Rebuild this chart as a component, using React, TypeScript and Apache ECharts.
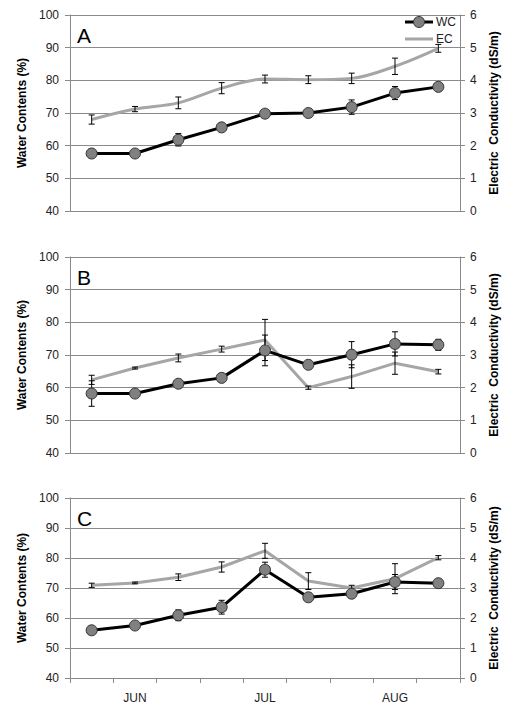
import React, { useEffect, useRef } from "react";
import * as echarts from "echarts";

// ---- data ----
const categories = ["", "JUN", "", "", "JUL", "", "", "AUG", ""];
const panelNames = ["A", "B", "C"];
const legendNames = ["WC", "EC"];

const wcA = [57.6, 57.6, 61.8, 65.6, 69.8, 70.0, 71.8, 76.1, 78.0];
const wcAErr = [0, 0, 1.9, 0, 0, 0, 2.2, 2.0, 0];
const ecA = [2.8, 3.12, 3.31, 3.76, 4.04, 4.02, 4.06, 4.43, 4.98];
const ecAErr = [0.14, 0.08, 0.18, 0.17, 0.12, 0.12, 0.16, 0.25, 0.12];

const wcB = [58.2, 58.2, 61.2, 63.0, 71.4, 67.0, 70.1, 73.4, 73.1];
const wcBErr = [3.9, 0, 1.0, 1.0, 4.7, 0, 4.0, 3.7, 1.7];
const ecB = [2.24, 2.6, 2.91, 3.18, 3.46, 2.0, 2.34, 2.75, 2.49];
const ecBErr = [0.14, 0.03, 0.12, 0.09, 0.63, 0.05, 0.36, 0.34, 0.07];

const wcC = [55.9, 57.5, 60.9, 63.6, 76.1, 66.9, 68.1, 72.0, 71.6];
const wcCErr = [0, 0, 1.8, 2.3, 2.5, 0, 0, 2.5, 0];
const ecC = [3.09, 3.17, 3.36, 3.7, 4.24, 3.23, 3.0, 3.31, 4.01];
const ecCErr = [0.07, 0.03, 0.11, 0.17, 0.25, 0.28, 0.09, 0.5, 0.07];

const wcTicks = { min: 40, max: 100, interval: 10 };
const ecTicks = { min: 0, max: 6, interval: 1 };

const leftTitle = "Water Contents (%)";
const rightTitle = "Electric  Conductivity (dS/m)";

const panels = [
  { wc: wcA, wcErr: wcAErr, ec: ecA, ecErr: ecAErr, smooth: 0.35 },
  { wc: wcB, wcErr: wcBErr, ec: ecB, ecErr: ecBErr, smooth: false },
  { wc: wcC, wcErr: wcCErr, ec: ecC, ecErr: ecCErr, smooth: false },
];

const gridBoxes = [
  { top: 15, height: 196 },
  { top: 257, height: 196 },
  { top: 498, height: 180 },
];

const FONT = "Liberation Sans";
const GRID_COLOR = "#8a8a8a";
const EC_COLOR = "#a6a6a6";
const MARKER_FILL = "#808080";

function errData(vals: number[], errs: number[]) {
  const out: number[][] = [];
  vals.forEach((v, k) => {
    if (errs[k] > 0) out.push([k, v - errs[k], v + errs[k]]);
  });
  return out;
}

const renderErr = (params: any, api: any) => {
  const x = api.value(0);
  const top = api.coord([x, api.value(2)]);
  const bot = api.coord([x, api.value(1)]);
  const w = 3;
  const style = { stroke: "#000", lineWidth: 1 };
  return {
    type: "group",
    children: [
      { type: "line", shape: { x1: top[0], y1: top[1], x2: bot[0], y2: bot[1] }, style },
      { type: "line", shape: { x1: top[0] - w, y1: top[1], x2: top[0] + w, y2: top[1] }, style },
      { type: "line", shape: { x1: bot[0] - w, y1: bot[1], x2: bot[0] + w, y2: bot[1] }, style },
    ],
  };
};

export default function App() {
  const ref = useRef<HTMLDivElement>(null);
  useEffect(() => {
    if (!ref.current) return;
    const chart = echarts.init(ref.current, null, { renderer: "svg" });
    const grid: any[] = [];
    const xAxis: any[] = [];
    const yAxis: any[] = [];
    const series: any[] = [];
    const graphic: any[] = [];

    panels.forEach((p, i) => {
      const last = i === panels.length - 1;
      grid.push({ left: 70, right: 56, top: gridBoxes[i].top, height: gridBoxes[i].height });
      xAxis.push({
        type: "category",
        gridIndex: i,
        data: categories,
        boundaryGap: true,
        axisLine: { lineStyle: { color: GRID_COLOR, width: 1 } },
        axisTick: { show: last, length: 5, interval: 0, lineStyle: { color: GRID_COLOR } },
        axisLabel: {
          show: last,
          interval: 0,
          margin: 14,
          fontFamily: FONT,
          fontSize: 12,
          color: "#222",
        },
        splitLine: { show: false },
      });
      yAxis.push({
        type: "value",
        gridIndex: i,
        position: "left",
        ...wcTicks,
        name: leftTitle,
        nameLocation: "middle",
        nameRotate: 90,
        nameGap: 36,
        nameTextStyle: { fontFamily: FONT, fontSize: 12, fontWeight: "bold", color: "#000" },
        axisLine: { show: true, lineStyle: { color: GRID_COLOR } },
        axisTick: { show: true, length: 5, lineStyle: { color: GRID_COLOR } },
        axisLabel: { margin: 11, fontFamily: FONT, fontSize: 12, color: "#222" },
        splitLine: { show: true, lineStyle: { color: GRID_COLOR, width: 1 } },
      });
      yAxis.push({
        type: "value",
        gridIndex: i,
        position: "right",
        ...ecTicks,
        name: rightTitle,
        nameLocation: "middle",
        nameRotate: 90,
        nameGap: 26,
        nameTextStyle: { fontFamily: FONT, fontSize: 12, fontWeight: "bold", color: "#000" },
        axisLine: { show: true, lineStyle: { color: GRID_COLOR } },
        axisTick: { show: true, length: 5, lineStyle: { color: GRID_COLOR } },
        axisLabel: { margin: 10, fontFamily: FONT, fontSize: 12, color: "#222" },
        splitLine: { show: false },
      });
      series.push({
        name: "EC",
        type: "line",
        xAxisIndex: i,
        yAxisIndex: 2 * i + 1,
        data: p.ec,
        smooth: p.smooth,
        showSymbol: false,
        symbol: "none",
        lineStyle: { color: EC_COLOR, width: 3 },
        itemStyle: { color: EC_COLOR },
        z: 2,
      });
      series.push({
        type: "custom",
        xAxisIndex: i,
        yAxisIndex: 2 * i + 1,
        data: errData(p.ec, p.ecErr),
        renderItem: renderErr,
        encode: { x: 0, y: [1, 2] },
        z: 3,
      });
      series.push({
        type: "custom",
        xAxisIndex: i,
        yAxisIndex: 2 * i,
        data: errData(p.wc, p.wcErr),
        renderItem: renderErr,
        encode: { x: 0, y: [1, 2] },
        z: 3,
      });
      series.push({
        name: "WC",
        type: "line",
        xAxisIndex: i,
        yAxisIndex: 2 * i,
        data: p.wc,
        symbol: "circle",
        symbolSize: 11,
        lineStyle: { color: "#000", width: 3 },
        itemStyle: { color: MARKER_FILL, borderColor: "#333", borderWidth: 1 },
        z: 4,
      });
      graphic.push({
        type: "text",
        left: 77,
        top: gridBoxes[i].top + 10,
        style: { text: panelNames[i], fontFamily: FONT, fontSize: 21, fill: "#000" },
      });
    });

    // legend (top right of panel A)
    graphic.push(
      { type: "line", shape: { x1: 405, y1: 22, x2: 433, y2: 22 }, style: { stroke: "#000", lineWidth: 3 }, z: 10 },
      { type: "circle", shape: { cx: 419, cy: 22, r: 5.5 }, style: { fill: MARKER_FILL, stroke: "#333", lineWidth: 1 }, z: 11 },
      { type: "text", x: 436, y: 22, style: { text: legendNames[0], fontFamily: FONT, fontSize: 12, fill: "#222", verticalAlign: "middle" }, z: 11 },
      { type: "line", shape: { x1: 405, y1: 39, x2: 433, y2: 39 }, style: { stroke: EC_COLOR, lineWidth: 3 }, z: 10 },
      { type: "text", x: 436, y: 39, style: { text: legendNames[1], fontFamily: FONT, fontSize: 12, fill: "#222", verticalAlign: "middle" }, z: 11 }
    );

    chart.setOption({
      animation: false,
      grid,
      xAxis,
      yAxis,
      series,
      graphic,
    });
    return () => chart.dispose();
  }, []);
  return (
    <div
      ref={ref}
      style={{ position: "fixed", left: 0, top: 0, width: 516, height: 711, background: "#fff" }}
    />
  );
}
